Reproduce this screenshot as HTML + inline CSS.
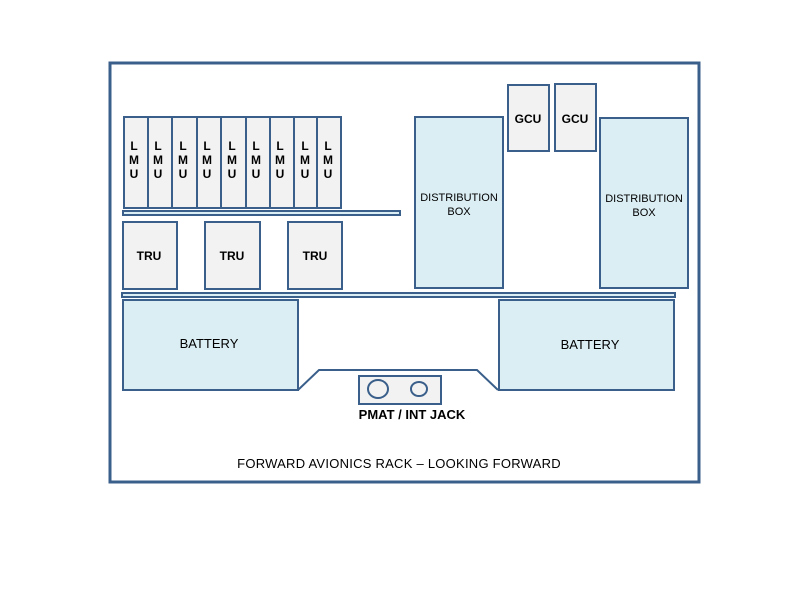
<!DOCTYPE html>
<html><head><style>body{margin:0;background:#fff}svg{display:block}text{font-family:"Liberation Sans",sans-serif;font-weight:bold;fill:#000}text.n{font-weight:normal}</style></head><body>
<svg width="800" height="600" xmlns="http://www.w3.org/2000/svg">
<g stroke="#3a5f8a" stroke-width="2">
<rect x="110" y="63" width="589" height="419" fill="#fff" stroke-width="3"/>
<g fill="#f2f2f2">
<rect x="124" y="117" width="24" height="91"/>
<rect x="148" y="117" width="24" height="91"/>
<rect x="172" y="117" width="25" height="91"/>
<rect x="197" y="117" width="24" height="91"/>
<rect x="221" y="117" width="25" height="91"/>
<rect x="246" y="117" width="24" height="91"/>
<rect x="270" y="117" width="24" height="91"/>
<rect x="294" y="117" width="23" height="91"/>
<rect x="317" y="117" width="24" height="91"/>
<rect x="123" y="222" width="54" height="67"/>
<rect x="205" y="222" width="55" height="67"/>
<rect x="288" y="222" width="54" height="67"/>
<rect x="508" y="85" width="41" height="66"/>
<rect x="555" y="84" width="41" height="67"/>
<rect x="359" y="376" width="82" height="28"/>
</g>
<rect x="123" y="211" width="277" height="4" fill="#dbeef4"/>
<rect x="122" y="293" width="553" height="4" fill="#dbeef4"/>
<g fill="#dbeef4">
<rect x="415" y="117" width="88" height="171"/>
<rect x="600" y="118" width="88" height="170"/>
<rect x="123" y="300" width="175" height="90"/>
<rect x="499" y="300" width="175" height="90"/>
</g>
<polyline points="298,390 319,370 477,370 498,390" fill="none"/>
<ellipse cx="378" cy="389" rx="10" ry="9" fill="none"/>
<ellipse cx="419" cy="389" rx="8" ry="7" fill="none"/>
</g>
<g font-size="12" text-anchor="middle">
<text x="134" y="150">L</text><text x="134" y="164">M</text><text x="134" y="178">U</text>
<text x="158" y="150">L</text><text x="158" y="164">M</text><text x="158" y="178">U</text>
<text x="183" y="150">L</text><text x="183" y="164">M</text><text x="183" y="178">U</text>
<text x="207" y="150">L</text><text x="207" y="164">M</text><text x="207" y="178">U</text>
<text x="232" y="150">L</text><text x="232" y="164">M</text><text x="232" y="178">U</text>
<text x="256" y="150">L</text><text x="256" y="164">M</text><text x="256" y="178">U</text>
<text x="280" y="150">L</text><text x="280" y="164">M</text><text x="280" y="178">U</text>
<text x="305" y="150">L</text><text x="305" y="164">M</text><text x="305" y="178">U</text>
<text x="328" y="150">L</text><text x="328" y="164">M</text><text x="328" y="178">U</text>
<text x="149" y="260">TRU</text><text x="232" y="260">TRU</text><text x="315" y="260">TRU</text>
<text x="528" y="123">GCU</text><text x="575" y="123">GCU</text>
<text class="n" x="209" y="348" font-size="13">BATTERY</text>
<text class="n" x="590" y="349" font-size="13">BATTERY</text>
<text x="412" y="419" font-size="13">PMAT / INT JACK</text>
<text class="n" x="399" y="468" font-size="13" letter-spacing="0.25">FORWARD AVIONICS RACK – LOOKING FORWARD</text>
<text class="n" x="459" y="201" font-size="11">DISTRIBUTION</text><text class="n" x="459" y="215" font-size="11">BOX</text>
<text class="n" x="644" y="202" font-size="11">DISTRIBUTION</text><text class="n" x="644" y="216" font-size="11">BOX</text>
</g>
</svg>
</body></html>
